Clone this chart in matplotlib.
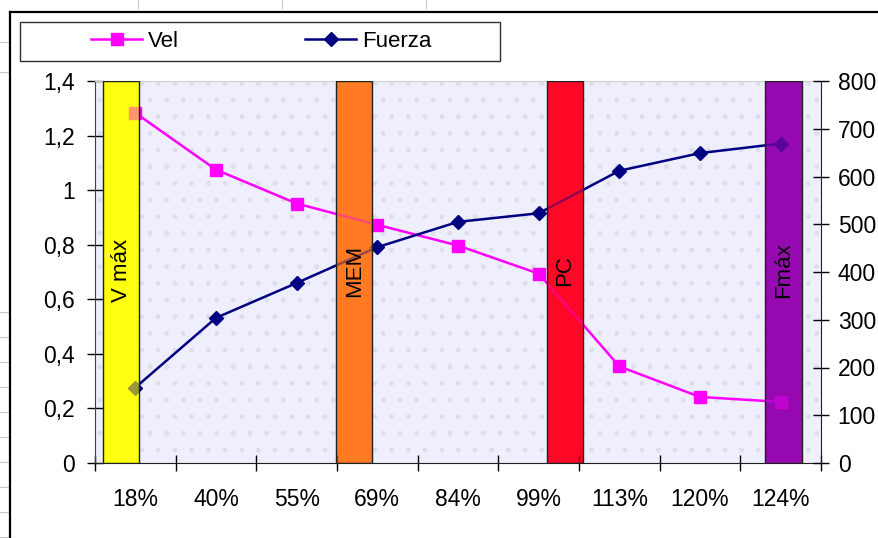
import matplotlib
matplotlib.use("Agg")
import matplotlib.pyplot as plt
from matplotlib.lines import Line2D
from matplotlib.patches import Rectangle
import matplotlib.transforms as mtransforms

plt.rcParams['font.family'] = ['Liberation Sans', 'DejaVu Sans']

# ---- data ----
categories = ['18%', '40%', '55%', '69%', '84%', '99%', '113%', '120%', '124%']
vel = [1.283, 1.075, 0.951, 0.873, 0.797, 0.694, 0.354, 0.242, 0.224]
fuerza = [158, 304, 377, 452, 505, 523, 612, 649, 669]
left_ticks = [0, 0.2, 0.4, 0.6, 0.8, 1.0, 1.2, 1.4]
left_labels = ['0', '0,2', '0,4', '0,6', '0,8', '1', '1,2', '1,4']
right_ticks = [0, 100, 200, 300, 400, 500, 600, 700, 800]
band_labels = ['V máx', 'MEM', 'PC', 'Fmáx']
band_left = [-0.40, 2.49, 5.10, 7.81]
band_width = 0.45
band_colors = ['#FFFF10', '#FF7A22', '#FF0828', '#9608B0']

W, H = 879, 538
fig = plt.figure(figsize=(W / 100, H / 100), dpi=100)
fig.patch.set_facecolor('white')

# spreadsheet grid remnants
for yy in [42, 72] + list(range(312, 538, 25)):
    fig.add_artist(Line2D([0, 8 / W], [1 - yy / H, 1 - yy / H], color='#C8C8C8', lw=0.8))
for xx in [138, 282, 426]:
    fig.add_artist(Line2D([xx / W, xx / W], [1, 1 - 8 / H], color='#C8C8C8', lw=0.8))

# chart frame
fig.add_artist(Line2D([10 / W, 10 / W], [0, 1 - 12 / H], color='black', lw=1.6))
fig.add_artist(Line2D([10 / W, 1], [1 - 12 / H, 1 - 12 / H], color='black', lw=1.6))

x0, x1, yb, yt = 95, 821, 463, 81
ax = fig.add_axes([x0 / W, 1 - yb / H, (x1 - x0) / W, (yb - yt) / H])
ax.set_facecolor('#EEEEFC')
ax.add_patch(Rectangle((0, 0), 1, 1, transform=ax.transAxes, facecolor='none',
                       edgecolor='#DEDEE8', linewidth=0, hatch='.', zorder=0.5))

xs = list(range(len(categories)))

# opaque bands beneath the lines
for bl, bc in zip(band_left, band_colors):
    ax.bar(bl, 1.4, width=band_width, align='edge', color=bc, edgecolor='none', zorder=1)

ax.plot(xs, vel, color='#FF00FF', lw=1.8, marker='s', markersize=9,
        markeredgecolor='#FF00FF', zorder=3)
ax.set_xlim(-0.5, 8.5)
ax.set_ylim(0, 1.4)
ax.set_yticks(left_ticks)
ax.set_yticklabels(left_labels)
ax.set_xticks(xs)
ax.set_xticklabels(categories)
ax.set_xticks([i - 0.5 for i in range(len(categories) + 1)], minor=True)
ax.tick_params(axis='x', which='major', length=0, pad=18, labelsize=16.5)
ax.tick_params(axis='x', which='minor', direction='inout', length=12, width=1)
ax.tick_params(axis='y', direction='inout', length=11, width=1, pad=9, labelsize=16.5)
ax.spines['top'].set_color('#D0D0D0')
ax.spines['right'].set_visible(False)
ax.spines['left'].set_color('#404040')
ax.spines['bottom'].set_color('#202020')

ax2 = ax.twinx()
ax2.plot(xs, fuerza, color='#000080', lw=1.8, marker='D', markersize=7,
         markeredgecolor='#000080', zorder=3)
ax2.set_ylim(0, 800)
ax2.set_yticks(right_ticks)
ax2.tick_params(axis='y', direction='inout', length=12, width=1, pad=6, labelsize=16.5)
for s in ['top', 'left', 'bottom']:
    ax2.spines[s].set_visible(False)
ax2.spines['right'].set_color('#202020')

# translucent bands over the lines + outlines + labels
trans = mtransforms.blended_transform_factory(ax2.transData, ax2.transAxes)
for bl, bc, lab in zip(band_left, band_colors, band_labels):
    ax2.bar(bl, 800, width=band_width, align='edge', color=bc, alpha=0.6,
            edgecolor='none', zorder=4)
    ax2.bar(bl, 800, width=band_width, align='edge', color='none',
            edgecolor='#202020', linewidth=1, zorder=5)
    ax2.text(bl + band_width / 2, 0.504, lab, rotation=90, ha='center', va='center',
             fontsize=16, color='black', transform=trans, zorder=6)

# legend
fig.add_artist(Rectangle((20 / W, 1 - 61 / H), 480 / W, 39 / H, transform=fig.transFigure,
                         facecolor='white', edgecolor='#303030', linewidth=1))
handles = [Line2D([], [], color='#FF00FF', lw=1.8, marker='s', markersize=9),
           Line2D([], [], color='#000080', lw=1.8, marker='D', markersize=7)]
leg = fig.legend(handles, ['Vel', 'Fuerza'], ncol=2, frameon=False, loc='center left',
                 bbox_to_anchor=(91 / W, 1 - 41.5 / H), borderpad=0, borderaxespad=0,
                 fontsize=16, handlelength=2.3, handletextpad=0.25, columnspacing=5.7)

fig.savefig('out.png', dpi=100)
